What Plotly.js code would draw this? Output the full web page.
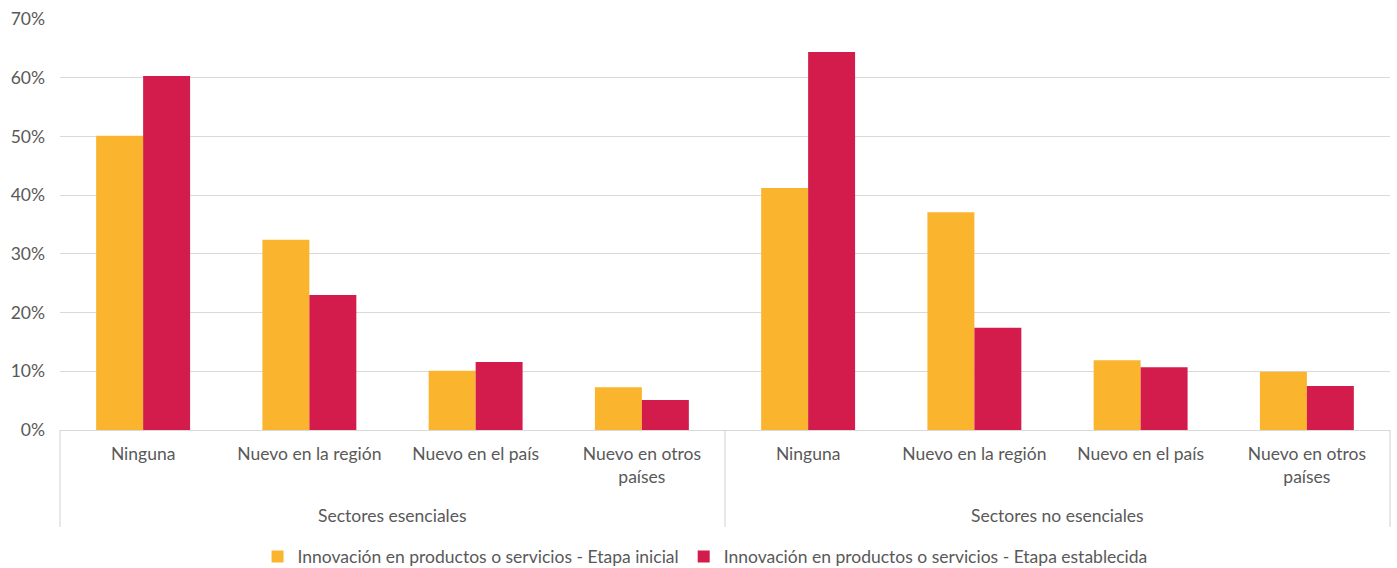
<!DOCTYPE html>
<html><head><meta charset="utf-8">
<script src="https://cdn.plot.ly/plotly-3.0.1.min.js"></script>
<style>html,body{margin:0;padding:0;background:#fff}#c{width:1397px;height:568px}</style>
</head><body><div id="c"></div>
<script>
const groups = ["Sectores esenciales", "Sectores no esenciales"];
const categories = ["Ninguna", "Nuevo en la región", "Nuevo en el país", "Nuevo en otros<br>países"];
const seriesNames = ["Innovación en productos o servicios - Etapa inicial", "Innovación en productos o servicios - Etapa establecida"];
const inicial = [0.501, 0.324, 0.101, 0.073, 0.412, 0.371, 0.119, 0.099];
const establecida = [0.603, 0.230, 0.116, 0.051, 0.644, 0.174, 0.107, 0.075];
const colors = ["#FBB42D", "#D31C4B"];

const xs = [], labels = [];
groups.forEach((g, gi) => categories.forEach((c, ci) => { xs.push(gi * categories.length + ci); labels.push(c); }));

const font = {family: "Lato, 'Open Sans', sans-serif", size: 17.5, color: "#595959"};
const traces = [inicial, establecida].map((v, i) => ({
  type: "bar", x: xs, y: v, name: seriesNames[i], marker: {color: colors[i]},
  hoverinfo: "skip"
}));

const n = xs.length;
const shapes = [0, 0.5, 1].map(p => ({type: "line", xref: "paper", yref: "paper", x0: p, x1: p, y0: 0, y1: -0.236, line: {color: "#d0d0d0", width: 1}}));
const annotations = groups.map((g, gi) => ({
  text: g, xref: "paper", yref: "paper", x: (gi + 0.5) / groups.length, y: -0.207,
  showarrow: false, font: font, xanchor: "center", yanchor: "middle"
}));

Plotly.newPlot("c", traces, {
  width: 1397, height: 568,
  margin: {l: 60, r: 7, t: 19, b: 138, autoexpand: false},
  paper_bgcolor: "#fff", plot_bgcolor: "#fff",
  font: font,
  barmode: "group", bargap: 0.435, bargroupgap: 0,
  xaxis: {range: [-0.5, n - 0.5], tickmode: "array", tickvals: xs, ticktext: labels,
    showgrid: false, showline: true, linecolor: "#d9d9d9", linewidth: 1, ticks: "",
    ticklabelstandoff: 8, tickfont: font, fixedrange: true, zeroline: false, automargin: false},
  yaxis: {range: [0, 0.7], dtick: 0.1, tickformat: ".0%", showgrid: true, gridcolor: "#d9d9d9",
    zeroline: false, showline: false, ticks: "", ticklabelstandoff: 14, tickfont: font, automargin: false},
  legend: {orientation: "h", x: 0.485, xanchor: "center", xref: "paper", yref: "container", y: 0.02, yanchor: "middle",
    font: font, itemwidth: 30, tracegroupgap: 0},
  shapes: shapes, annotations: annotations, showlegend: true
}, {staticPlot: true});
</script></body></html>
